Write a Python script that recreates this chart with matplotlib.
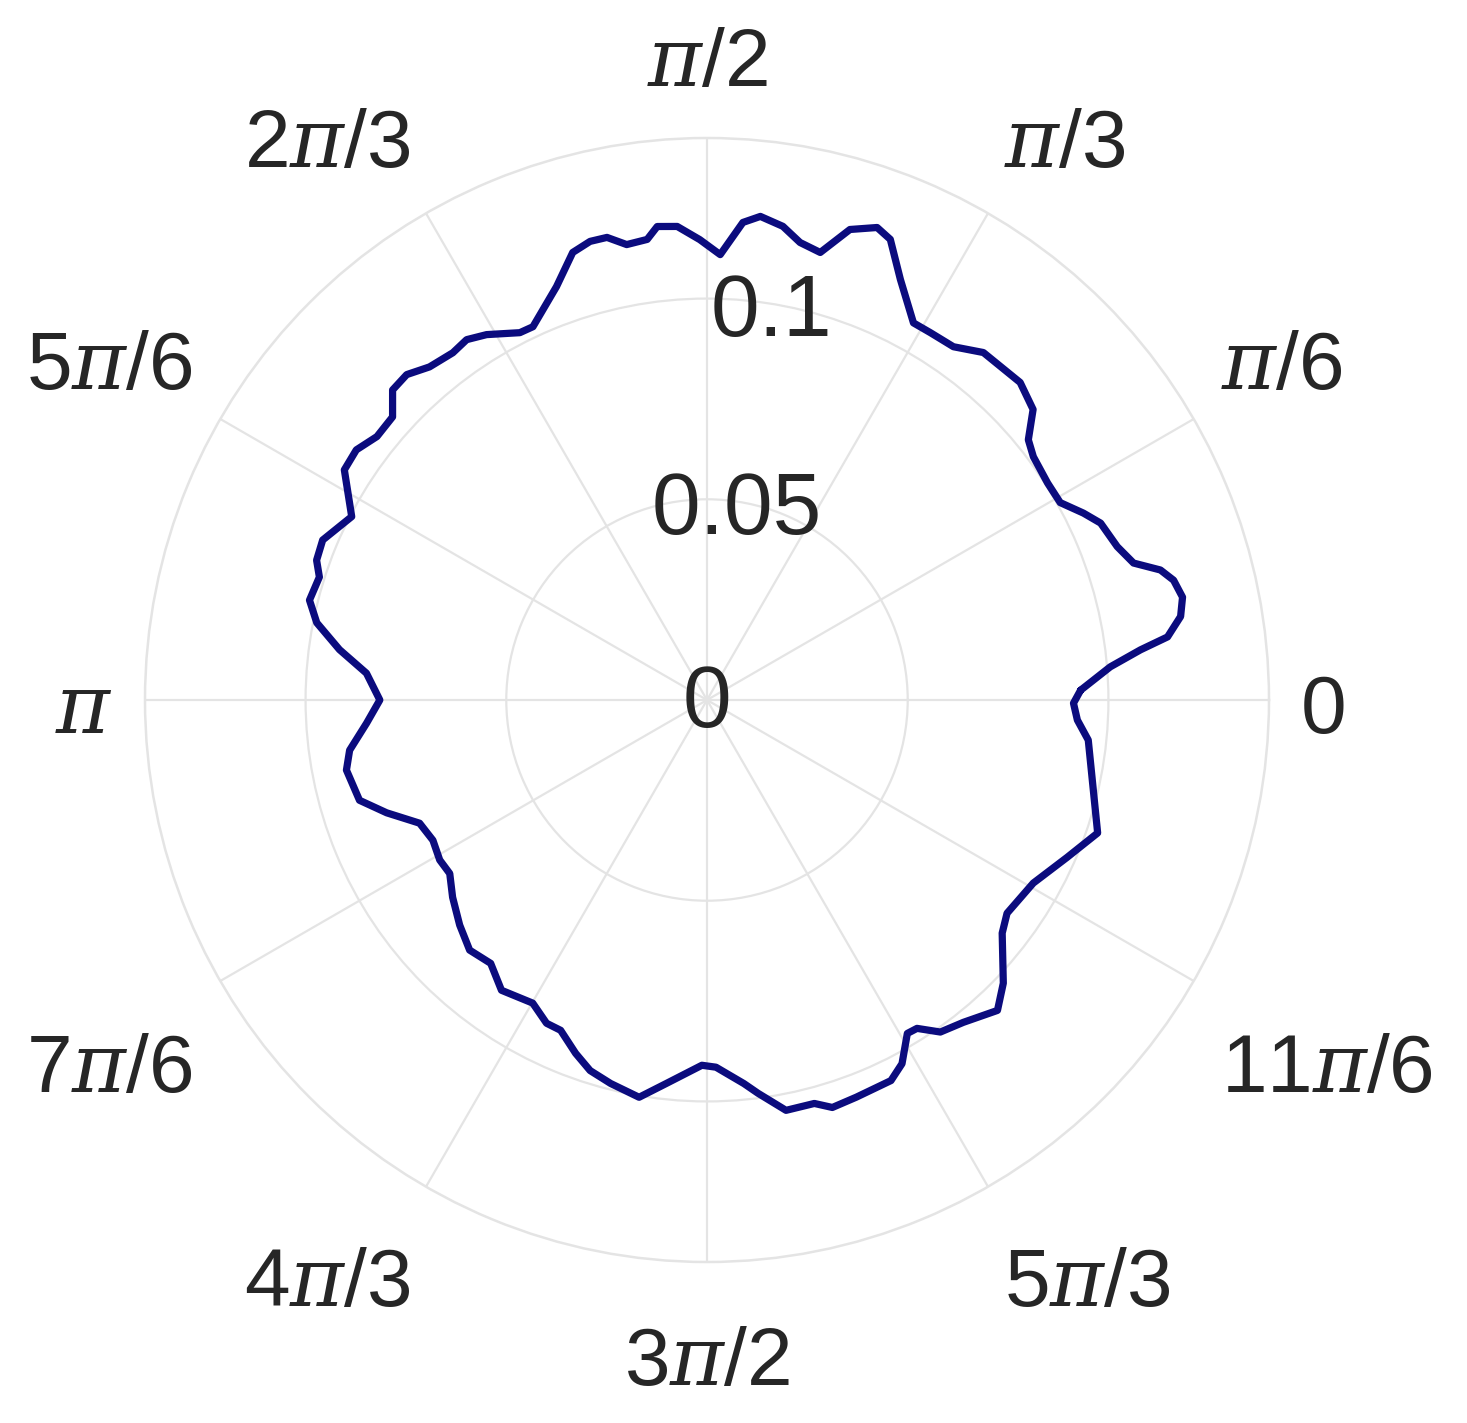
import numpy as np
import matplotlib
matplotlib.use("Agg")
import matplotlib.pyplot as plt

plt.rcParams["font.family"] = ["Liberation Sans", "DejaVu Sans"]
plt.rcParams["mathtext.fontset"] = "custom"
plt.rcParams["mathtext.it"] = "DejaVu Serif:italic"
plt.rcParams["mathtext.rm"] = "Liberation Sans"

# curve: angle in degrees, radius
theta_deg = [1.5, 4.7, 6.6, 7.8, 10.0, 12.2, 14.4, 16.0, 17.8, 20.5,
             24.2, 26.4, 29.2, 32.5, 36.7, 39.0, 41.7, 45.4, 51.5, 55.1,
             58.7, 61.3, 65.3, 68.3, 70.2, 73.1, 75.8, 78.5, 80.9, 83.7,
             85.7, 88.3, 90.9, 93.6, 96.0, 97.4, 100.0, 102.2, 104.3, 106.7,
             110.0, 115.0, 117.0, 121.1, 123.7, 126.2, 129.8, 132.7, 135.4, 138.0,
             141.4, 144.5, 147.6, 152.7, 157.4, 160.3, 162.4, 165.9, 168.8, 172.2,
             175.5, 180.0, 183.9, 188.0, 191.0, 196.1, 199.4, 203.2, 207.1, 210.9,
             214.0, 217.8, 222.3, 226.5, 230.6, 234.7, 240.1, 243.6, 246.1, 249.6,
             252.5, 255.9, 260.3, 264.0, 269.2, 271.4, 275.5, 277.4, 280.9, 284.9,
             287.1, 290.6, 295.8, 298.2, 301.0, 302.6, 305.1, 308.5, 313.1, 316.3,
             321.7, 324.6, 330.7, 336.4, 341.2, 346.9, 354.0, 356.9, 359.5]
radius = [.0931, .1008, .1087, .1158, .1198, .1212, .1200, .1175, .1116, .1091,
          .1075, .1047, .1008, .1006, .1014, .1030, .1088, .1111, .1106, .1073,
          .1071, .1071, .1153, .1235, .1251, .1225, .1150, .1163, .1195, .1212,
          .1193, .1110, .1147, .1182, .1186, .1157, .1152, .1179, .1179, .1164,
          .1096, .1026, .1027, .1063, .1079, .1072, .1080, .1103, .1100, .1054,
          .1052, .1073, .1070, .0996, .1037, .1033, .1013, .1021, .0991, .0924,
          .0851, .0815, .0850, .0899, .0915, .0901, .0846, .0779, .0767, .0776,
          .0773, .0802, .0833, .0859, .0849, .0886, .0871, .0899, .0900, .0939,
          .0968, .0985, .1004, .0960, .0910, .0915, .0960, .0988, .1041, .1040,
          .1062, .1057, .1053, .1028, .0969, .0971, .1011, .1026, .1059, .1021,
          .0937, .0917, .0932, .0979, .1028, .0988, .0955, .0924, .0913]

theta_ticks = [0, 30, 60, 90, 120, 150, 180, 210, 240, 270, 300, 330]
theta_labels = ["0", r"$\pi$/6", r"$\pi$/3", r"$\pi$/2", r"2$\pi$/3", r"5$\pi$/6",
                r"$\pi$", r"7$\pi$/6", r"4$\pi$/3", r"3$\pi$/2", r"5$\pi$/3", r"11$\pi$/6"]
r_ticks = [0, 0.05, 0.1]
r_labels = ["0", "0.05", "0.1"]
r_max = 0.14

txt_color = "#262626"
grid_color = "#e4e4e4"

fig = plt.figure(figsize=(14.67, 14.23), dpi=100)
ax = fig.add_axes([145 / 1467, (1423 - 700 - 562) / 1423, 1124 / 1467, 1124 / 1423],
                  projection="polar")

th = np.deg2rad(np.r_[theta_deg, theta_deg[0]])
rr = np.r_[radius, radius[0]]
ax.plot(th, rr, color="#0b0b7e", linewidth=5.2, zorder=3,
        solid_joinstyle="round", solid_capstyle="round")

ax.set_ylim(0, r_max)
ax.set_yticks(r_ticks[1:])
ax.set_xticks(np.deg2rad(theta_ticks))
ax.set_xticklabels([])
ax.set_yticklabels([])
ax.tick_params(length=0)
ax.grid(True, color=grid_color, linewidth=1.6)
ax.spines["polar"].set_color(grid_color)
ax.spines["polar"].set_linewidth(1.8)

# angle labels, placed outside the outer ring
for t, lab in zip(theta_ticks, theta_labels):
    c, s = np.cos(np.deg2rad(t)), np.sin(np.deg2rad(t))
    ha = "left" if c > 0.1 else ("right" if c < -0.1 else "center")
    if s > 0.1:
        va, dy = "bottom", 44 * s - 9
    elif s < -0.1:
        va, dy = "top", -24 * abs(s) - 40
    else:
        va, dy = "center", -12
    ax.annotate(lab, xy=(np.deg2rad(t), r_max), xytext=(32 * c, dy),
                textcoords="offset pixels", ha=ha, va=va,
                fontsize=59, color=txt_color, annotation_clip=False)

# radius labels along 80 degrees
for v, lab in zip(r_ticks, r_labels):
    off = (0, -5) if v == 0 else (-5, -9)
    ax.annotate(lab, xy=(np.deg2rad(80), v), xytext=off, textcoords="offset pixels",
                ha="center", va="center", fontsize=63, color=txt_color, zorder=4)

fig.savefig("out.png", dpi=100)
